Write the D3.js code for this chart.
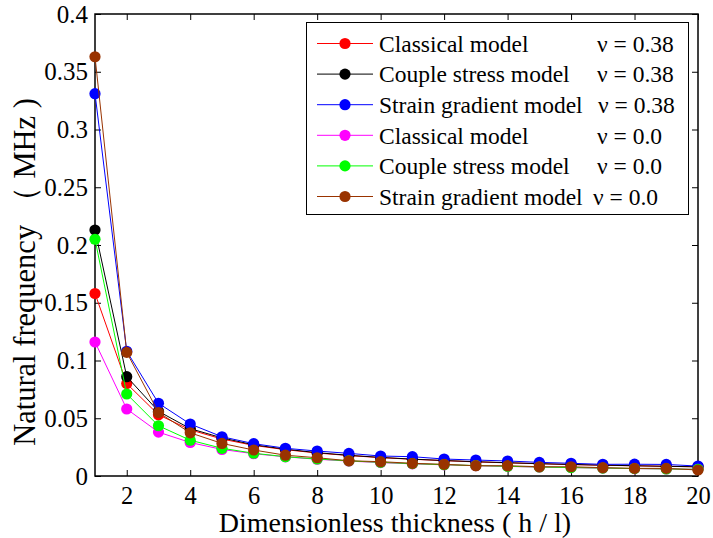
<!DOCTYPE html>
<html>
<head>
<meta charset="utf-8">
<script src="https://cdn.jsdelivr.net/npm/d3@7"></script>
<style>
  html, body { margin: 0; padding: 0; background: #fff; }
  svg { display: block; }
</style>
</head>
<body>
<svg id="chart" width="713" height="538"></svg>
<script>
// ---- data ----
const thickness = [1,2,3,4,5,6,7,8,9,10,11,12,13,14,15,16,17,18,19,20];
const classical038 = [0.158,0.080,0.053,0.040,0.032,0.0265,0.0228,0.0199,0.0177,0.0159,0.0145,0.0133,0.0122,0.0114,0.0106,0.0099,0.0093,0.0088,0.0084,0.0079];
const couple038    = [0.213,0.086,0.056,0.041,0.033,0.027,0.0232,0.0202,0.0179,0.0161,0.0146,0.0134,0.0124,0.0115,0.0107,0.0100,0.0094,0.0089,0.0084,0.0080];
const strain038    = [0.331,0.108,0.063,0.045,0.034,0.028,0.024,0.0216,0.0196,0.0173,0.0167,0.0147,0.0138,0.013,0.0118,0.011,0.0101,0.0102,0.010,0.0086];
const classical00  = [0.116,0.058,0.038,0.029,0.023,0.0193,0.0166,0.0145,0.0129,0.0116,0.0105,0.0097,0.0089,0.0083,0.0077,0.0073,0.0068,0.0064,0.0061,0.0058];
const couple00     = [0.205,0.071,0.0435,0.031,0.024,0.0197,0.0167,0.0147,0.0131,0.0118,0.0107,0.0098,0.0090,0.0084,0.0078,0.0073,0.0069,0.0065,0.0061,0.0058];
const strain00     = [0.363,0.107,0.055,0.0374,0.0282,0.0225,0.018,0.0158,0.0132,0.0124,0.011,0.0101,0.0089,0.0089,0.008,0.008,0.0072,0.0066,0.0066,0.0052];

const seriesNames = ["Classical model","Couple stress model","Strain gradient model","Classical model","Couple stress model","Strain gradient model"];
const seriesNu    = ["\u03bd = 0.38","\u03bd = 0.38","\u03bd = 0.38","\u03bd = 0.0","\u03bd = 0.0","\u03bd = 0.0"];
const seriesColors = ["#ff0000","#000000","#0000ff","#ff00ff","#00ff00","#993300"];
const seriesValues = [classical038, couple038, strain038, classical00, couple00, strain00];

const xTicks = [2,4,6,8,10,12,14,16,18,20];
const yTicks = [0,0.05,0.1,0.15,0.2,0.25,0.3,0.35,0.4];
const yTickLabels = ["0","0.05","0.1","0.15","0.2","0.25","0.3","0.35","0.4"];

const xLabel = "Dimensionless thickness ( h / l)";
const yLabel = "Natural frequency \uff08 MHz )";

// ---- layout ----
const L = 95, R = 698, T = 14, B = 476;
const svg = d3.select("#chart");
const FONT = '"Liberation Serif", "Times New Roman", Times, serif';

const x = d3.scaleLinear().domain([1,20]).range([L,R]);
const y = d3.scaleLinear().domain([0,0.4]).range([B,T]);

const tickLen = 6;

const gx = svg.append("g").attr("transform", `translate(0,${B})`)
  .call(d3.axisBottom(x).tickValues(xTicks).tickSize(-tickLen).tickPadding(11).tickFormat(d => String(d)));
const gxt = svg.append("g").attr("transform", `translate(0,${T})`)
  .call(d3.axisTop(x).tickValues(xTicks).tickSize(-tickLen).tickFormat(""));
const gy = svg.append("g").attr("transform", `translate(${L},0)`)
  .call(d3.axisLeft(y).tickValues(yTicks).tickSize(-tickLen).tickPadding(7).tickFormat((d,i) => yTickLabels[i]));
const gyr = svg.append("g").attr("transform", `translate(${R},0)`)
  .call(d3.axisRight(y).tickValues(yTicks).tickSize(-tickLen).tickFormat(""));

[gx, gxt, gy, gyr].forEach(g => {
  g.select(".domain").remove();
  g.selectAll(".tick line").attr("stroke", "#000").attr("stroke-width", 1);
  g.selectAll(".tick text").attr("fill", "#000")
    .style("font-family", FONT).style("font-size", "25px");
});
gx.selectAll(".tick text").style("font-size", "24.5px");

svg.append("rect").attr("x", L).attr("y", T).attr("width", R - L).attr("height", B - T)
  .attr("fill", "none").attr("stroke", "#000").attr("stroke-width", 1.5);

const line = d3.line().x((d,i) => x(thickness[i])).y(d => y(d));
seriesValues.forEach((vals, s) => {
  const g = svg.append("g");
  g.append("path").datum(vals).attr("d", line).attr("fill", "none")
    .attr("stroke", seriesColors[s]).attr("stroke-width", 1);
  g.selectAll("circle").data(vals).enter().append("circle")
    .attr("cx", (d,i) => x(thickness[i])).attr("cy", d => y(d)).attr("r", 5.6)
    .attr("fill", seriesColors[s]);
});

// legend
const lg = svg.append("g");
lg.append("rect").attr("x", 306.5).attr("y", 22.5).attr("width", 382).attr("height", 192)
  .attr("fill", "#fff").attr("stroke", "#000").attr("stroke-width", 1);
const rowY0 = 43.5, rowDy = 30.6;
const nuX = [597, 597, 598, 597, 597, 593];
seriesNames.forEach((name, s) => {
  const cy = rowY0 + s * rowDy;
  lg.append("line").attr("x1", 317).attr("x2", 373).attr("y1", cy).attr("y2", cy)
    .attr("stroke", seriesColors[s]).attr("stroke-width", 1);
  lg.append("circle").attr("cx", 345).attr("cy", cy).attr("r", 5.6).attr("fill", seriesColors[s]);
  lg.append("text").attr("x", 379).attr("y", cy).attr("dy", "0.35em")
    .style("font-family", FONT).style("font-size", "23.5px").text(name);
  lg.append("text").attr("x", nuX[s]).attr("y", cy).attr("dy", "0.35em")
    .style("font-family", FONT).style("font-size", "23.5px").text(seriesNu[s]);
});

// axis labels
svg.append("text").attr("x", 395).attr("y", 532).attr("text-anchor", "middle")
  .style("font-family", FONT).style("font-size", "28px").text(xLabel);
svg.append("text").attr("transform", `translate(35,272) rotate(-90)`)
  .attr("text-anchor", "middle").style("font-family", FONT).style("font-size", "30.5px").text(yLabel);
</script>
</body>
</html>
